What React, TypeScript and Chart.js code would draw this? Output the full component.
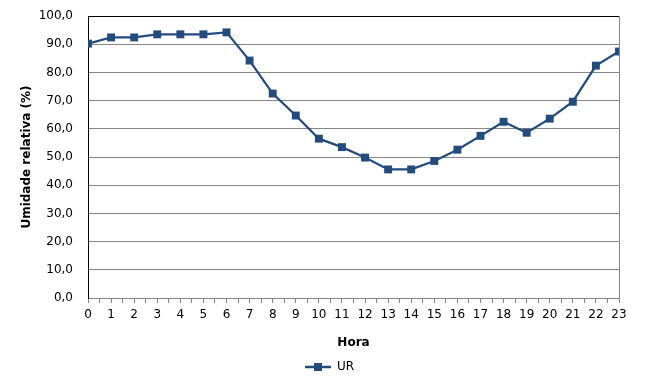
import React, { useEffect, useRef } from "react";
import { Chart, registerables } from "chart.js";

Chart.register(...registerables);

const hours: number[] = [0, 1, 2, 3, 4, 5, 6, 7, 8, 9, 10, 11, 12, 13, 14, 15, 16, 17, 18, 19, 20, 21, 22, 23];
const urValues: number[] = [90.2, 92.4, 92.4, 93.5, 93.5, 93.5, 94.2, 84.2, 72.5, 64.7, 56.5, 53.5, 49.8, 45.6, 45.6, 48.6, 52.6, 57.5, 62.5, 58.6, 63.6, 69.6, 82.4, 87.4];
const seriesLabel = "UR";
const xTitle = "Hora";
const yTitle = "Umidade relativa (%)";

const LINE = "#244B7E";
const GRID = "#868686";
const FONT = "'DejaVu Sans', Verdana, sans-serif";

function legendIcon(): HTMLCanvasElement {
  const c = document.createElement("canvas");
  c.width = 26;
  c.height = 10;
  const ctx = c.getContext("2d")!;
  ctx.strokeStyle = LINE;
  ctx.lineWidth = 2.5;
  ctx.beginPath();
  ctx.moveTo(0, 5);
  ctx.lineTo(26, 5);
  ctx.stroke();
  ctx.fillStyle = LINE;
  ctx.fillRect(9, 1, 8, 8);
  return c;
}

export default function App() {
  const ref = useRef<HTMLCanvasElement | null>(null);
  useEffect(() => {
    if (!ref.current) return;
    const chart = new Chart(ref.current, {
      type: "line",
      data: {
        datasets: [
          {
            label: seriesLabel,
            data: hours.map((h, i) => ({ x: h, y: urValues[i] })),
            borderColor: LINE,
            backgroundColor: LINE,
            borderWidth: 2.25,
            pointStyle: "rect",
            pointRadius: 5.6,
            pointBorderWidth: 0,
            pointBackgroundColor: LINE,
            tension: 0,
            yAxisID: "y",
          },
        ],
      },
      options: {
        animation: false,
        responsive: false,
        maintainAspectRatio: false,
        layout: { padding: { top: 16, left: 0, right: 12, bottom: 4 } },
        plugins: {
          tooltip: { enabled: false },
          legend: {
            position: "bottom",
            labels: {
              usePointStyle: true,
              pointStyle: legendIcon() as any,
              pointStyleWidth: 26,
              boxHeight: 10,
              color: "#000",
              font: { family: FONT, size: 12 },
              padding: 4,
            } as any,
          },
        },
        scales: {
          x: {
            type: "linear",
            min: 0,
            max: 23,
            afterFit(scale: any) {
              scale.height = 59;
            },
            ticks: {
              stepSize: 0.5,
              autoSkip: false,
              maxRotation: 0,
              color: "#000",
              font: { family: FONT, size: 12 },
              padding: 5,
              callback: (v: any) => (Number.isInteger(v) ? String(v) : ""),
            },
            grid: {
              drawOnChartArea: false,
              color: GRID,
              tickLength: 5,
            },
            border: { color: GRID, width: 1 },
            title: {
              display: true,
              text: xTitle,
              color: "#000",
              font: { family: FONT, size: 12, weight: "bold" },
              padding: { top: 8, bottom: 7 },
            },
          },
          y: {
            min: 0,
            max: 100,
            afterFit(scale: any) {
              scale.width = 88;
              scale.paddingTop = 0;
              scale.paddingBottom = 0;
            },
            ticks: {
              stepSize: 10,
              color: "#000",
              font: { family: FONT, size: 12 },
              padding: 15,
              callback: (v: any) => Number(v).toFixed(1).replace(".", ","),
            },
            grid: {
              color: (c: any) => (c.tick && c.tick.value === 100 ? "#000" : GRID),
              drawTicks: false,
              lineWidth: 1,
            },
            border: { color: "#000", width: 1 },
            title: {
              display: true,
              text: yTitle,
              color: "#000",
              font: { family: FONT, size: 12, weight: "bold" },
              padding: { top: 20, bottom: 20 },
            },
          },
          yRight: {
            type: "linear",
            position: "right",
            display: true,
            afterFit(scale: any) {
              scale.width = 40;
              scale.paddingTop = 0;
              scale.paddingBottom = 0;
            },
            ticks: { display: false },
            grid: { drawOnChartArea: false, drawTicks: false },
            border: { color: GRID, width: 1 },
          },
        },
      },
    });
    return () => chart.destroy();
  }, []);
  return (
    <div style={{ position: "absolute", left: 0, top: 0, width: 671, height: 387, background: "#fff" }}>
      <canvas ref={ref} width={671} height={387} style={{ width: 671, height: 387 }} />
    </div>
  );
}
